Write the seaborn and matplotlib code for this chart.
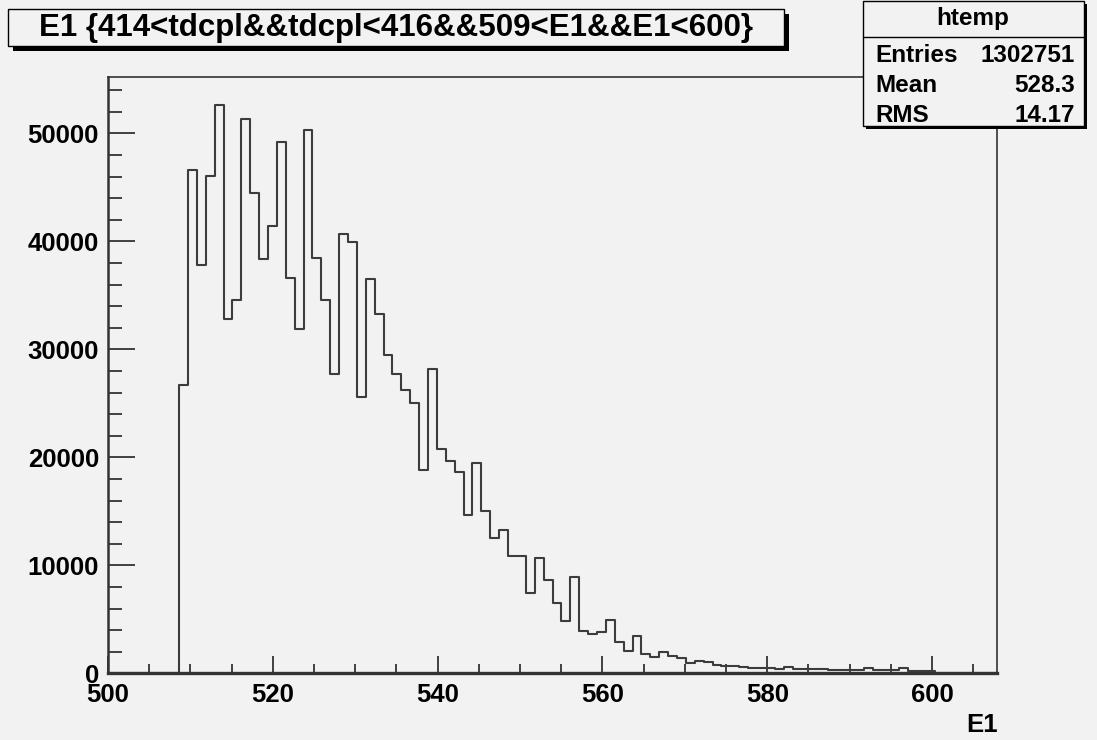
import numpy as np
import pandas as pd
import matplotlib
matplotlib.use("Agg")
import matplotlib.pyplot as plt
from matplotlib.patches import Rectangle
from matplotlib.lines import Line2D
from matplotlib.ticker import MultipleLocator, FormatStrFormatter
import seaborn as sns

# Histogram "htemp": 100 bins starting at x_min; only bins 8..92 are filled
x_min = 500.0
bin_width = 1.0788
n_bins = 100
first_filled_bin = 8
counts = [
    26700, 46600, 37800, 46100, 52600, 32800, 34600, 51300, 44500, 38400,
    41400, 49200, 36600, 31900, 50300, 38500, 34600, 27700, 40700, 39900,
    25600, 36500, 33300, 29500, 27700, 26200, 25000, 18800, 28200, 20800,
    19700, 18600, 14700, 19500, 15000, 12500, 13300, 10900, 10900, 7400,
    10700, 8600, 6500, 4800, 8900, 3900, 3600, 3800, 4900, 2900,
    2100, 3500, 1800, 1500, 2000, 1600, 1400, 950, 1150, 1050,
    800, 720, 650, 560, 520, 460, 500, 420, 540, 440,
    420, 390, 370, 350, 340, 320, 310, 500, 310, 280,
    290, 470, 250, 240, 220,
]

title_text = "E1 {414<tdcpl&&tdcpl<416&&509<E1&&E1<600}"
stats_name = "htemp"
stats_rows = [("Entries", "1302751"), ("Mean", "528.3"), ("RMS", "14.17")]
x_title = "E1"

BG = "#f2f2f2"
W, H = 1097, 740

sns.set_theme(style="ticks")
plt.rcParams["font.family"] = ["Liberation Sans", "DejaVu Sans"]
plt.rcParams["font.weight"] = "bold"

x_max = x_min + n_bins * bin_width
edges = x_min + bin_width * np.arange(n_bins + 1)
centers = 0.5 * (edges[:-1] + edges[1:])
heights = np.zeros(n_bins)
heights[first_filled_bin:first_filled_bin + len(counts)] = counts
hist_df = pd.DataFrame({"E1": centers, "entries": heights})

fig = plt.figure(figsize=(W / 100, H / 100), dpi=100, facecolor=BG)


def fx(px):
    return px / W


def fy(py):
    return 1 - py / H


ax_left, ax_right, ax_top, ax_bottom = 108, 997, 77.3, 673.3
ax = fig.add_axes([fx(ax_left), fy(ax_bottom), fx(ax_right - ax_left), (ax_bottom - ax_top) / H])
ax.set_facecolor(BG)

sns.histplot(data=hist_df, x="E1", weights="entries", bins=n_bins, binrange=(x_min, x_max),
             element="step", fill=False, color="#3c3c3c", linewidth=1.5, ax=ax)

ax.set_xlim(x_min, x_max)
ax.set_ylim(0, 55200)
ax.set_xlabel("")
ax.set_ylabel("")

ax.xaxis.set_major_locator(MultipleLocator(20))
ax.xaxis.set_minor_locator(MultipleLocator(5))
ax.yaxis.set_major_locator(MultipleLocator(10000))
ax.yaxis.set_minor_locator(MultipleLocator(2000))
ax.yaxis.set_major_formatter(FormatStrFormatter("%d"))
ax.xaxis.set_major_formatter(FormatStrFormatter("%d"))

px2pt = 0.72
ax.tick_params(axis="x", which="major", direction="in", length=17 * px2pt, width=1.3,
               color="#333333", pad=10 * px2pt, labelsize=18.5)
ax.tick_params(axis="x", which="minor", direction="in", length=9 * px2pt, width=1.3,
               color="#333333")
ax.tick_params(axis="y", which="major", direction="in", length=27 * px2pt, width=1.3,
               color="#333333", pad=9 * px2pt, labelsize=18.5)
ax.tick_params(axis="y", which="minor", direction="in", length=14 * px2pt, width=1.3,
               color="#333333")
for lab in ax.get_xticklabels() + ax.get_yticklabels():
    lab.set_fontweight("bold")
    lab.set_color("black")

ax.spines["left"].set_linewidth(1.8)
ax.spines["bottom"].set_linewidth(2.4)
ax.spines["top"].set_linewidth(1.2)
ax.spines["right"].set_linewidth(1.2)
for sp in ax.spines.values():
    sp.set_color("#333333")
    sp.set_visible(True)

# x-axis title at the bottom right
fig.text(fx(998), fy(725), x_title, ha="right", va="center", fontsize=18.5,
         fontweight="bold", color="black")


def boxed(x0, y0, x1, y1, shadow):
    fig.add_artist(Rectangle((fx(x0 + shadow), fy(y1 + shadow)), fx(x1 - x0), (y1 - y0) / H,
                             transform=fig.transFigure, facecolor="black", edgecolor="none",
                             zorder=5))
    fig.add_artist(Rectangle((fx(x0), fy(y1)), fx(x1 - x0), (y1 - y0) / H,
                             transform=fig.transFigure, facecolor=BG, edgecolor="black",
                             linewidth=1.0, zorder=6))


# title pave
boxed(8, 9, 784, 46, 5)
fig.text(fx(396), fy(28), title_text, ha="center", va="center", fontsize=22.5,
         fontweight="bold", color="black", zorder=7)

# statistics pave
boxed(863, 1, 1084, 126, 3)
fig.add_artist(Line2D([fx(863), fx(1084)], [fy(37), fy(37)], transform=fig.transFigure,
                      color="black", linewidth=1.0, zorder=7))
fig.text(fx(973), fy(19), stats_name, ha="center", va="center", fontsize=17.5,
         fontweight="bold", color="black", zorder=7)
for i, (name, val) in enumerate(stats_rows):
    yy = 56 + i * 29.5
    fig.text(fx(875), fy(yy), name, ha="left", va="center", fontsize=17.5,
             fontweight="bold", color="black", zorder=7)
    fig.text(fx(1075), fy(yy), val, ha="right", va="center", fontsize=17.5,
             fontweight="bold", color="black", zorder=7)

fig.savefig("out.png", dpi=100, facecolor=BG)
